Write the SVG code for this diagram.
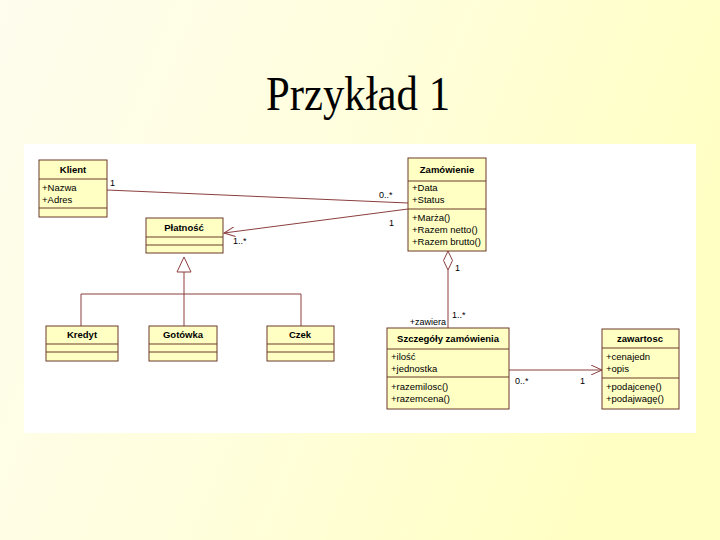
<svg xmlns="http://www.w3.org/2000/svg" width="720" height="540" viewBox="0 0 720 540">
<defs>
<linearGradient id="bg" x1="0" y1="0" x2="1" y2="0.3">
<stop offset="0" stop-color="#FEFDEE"/>
<stop offset="0.5" stop-color="#FFFEDD"/>
<stop offset="1" stop-color="#FFFFC4"/>
</linearGradient>
<marker id="open" viewBox="0 0 12 10" refX="11" refY="5" markerWidth="12" markerHeight="10" markerUnits="userSpaceOnUse" orient="auto">
<path d="M0,0 L11,5 L0,10" fill="none" stroke="#8B3F3F" stroke-width="1"/>
</marker>
</defs>
<style>
.box{fill:#FFFFC4;stroke:#6B3A2A;stroke-width:1}
.sep{stroke:#6B3A2A;stroke-width:1}
.ln{fill:none;stroke:#8B3F3F;stroke-width:1}
.h{font-family:"Liberation Sans",Arial,sans-serif;font-size:9.5px;font-weight:bold;fill:#000;text-anchor:middle}
.t{font-family:"Liberation Sans",Arial,sans-serif;font-size:9.5px;fill:#000}
.lbl{font-family:"Liberation Sans",Arial,sans-serif;font-size:9px;fill:#000}
</style>
<rect x="0" y="0" width="720" height="540" fill="url(#bg)"/>
<text x="358" y="110" font-family="'Liberation Serif','Times New Roman',serif" font-size="48" text-anchor="middle" fill="#000" textLength="184" lengthAdjust="spacingAndGlyphs">Przykład 1</text>
<rect x="24" y="144" width="672" height="289" fill="#FFFFFF"/>

<g id="connectors">
<line class="ln" x1="107" y1="190" x2="408" y2="203"/>
<line class="ln" x1="408" y1="209" x2="224" y2="233" marker-end="url(#open)"/>
<polyline class="ln" points="184,272 184,294"/>
<polygon points="184,257 177,272 191,272" fill="#FFFFFF" stroke="#8B3F3F" stroke-width="1"/>
<polyline class="ln" points="81,326 81,294 301,294 301,326"/>
<line class="ln" x1="184" y1="294" x2="184" y2="326"/>
<polygon points="448,251 452.5,260.5 448,270 443.5,260.5" fill="#FFFFFF" stroke="#8B3F3F" stroke-width="1"/>
<line class="ln" x1="448" y1="270" x2="448" y2="328"/>
<line class="ln" x1="509" y1="370" x2="602" y2="370" marker-end="url(#open)"/>
<text class="lbl" x="110" y="186">1</text>
<text class="lbl" x="379" y="198">0..*</text>
<text class="lbl" x="389" y="226">1</text>
<text class="lbl" x="233" y="244">1..*</text>
<text class="lbl" x="455" y="271">1</text>
<text class="lbl" x="452" y="318">1..*</text>
<text class="lbl" x="446" y="325" text-anchor="end">+zawiera</text>
<text class="lbl" x="515" y="384">0..*</text>
<text class="lbl" x="580" y="384">1</text>
</g>

<g id="Klient">
<rect class="box" x="39" y="160" width="68" height="57"/>
<line class="sep" x1="39" y1="179" x2="107" y2="179"/>
<line class="sep" x1="39" y1="208" x2="107" y2="208"/>
<text class="h" x="73" y="173">Klient</text>
<text class="t" x="42" y="191">+Nazwa</text>
<text class="t" x="42" y="203">+Adres</text>
</g>

<g id="Zamowienie">
<rect class="box" x="408" y="158" width="78" height="93"/>
<line class="sep" x1="408" y1="181" x2="486" y2="181"/>
<line class="sep" x1="408" y1="209" x2="486" y2="209"/>
<text class="h" x="447" y="173">Zamówienie</text>
<text class="t" x="412" y="191">+Data</text>
<text class="t" x="412" y="203">+Status</text>
<text class="t" x="412" y="221">+Marża()</text>
<text class="t" x="412" y="233">+Razem netto()</text>
<text class="t" x="412" y="245">+Razem brutto()</text>
</g>

<g id="Platnosc">
<rect class="box" x="146" y="218" width="77" height="35"/>
<line class="sep" x1="146" y1="237" x2="223" y2="237"/>
<line class="sep" x1="146" y1="245" x2="223" y2="245"/>
<text class="h" x="184" y="231">Płatność</text>
</g>

<g id="Kredyt">
<rect class="box" x="46" y="326" width="72" height="35"/>
<line class="sep" x1="46" y1="344" x2="118" y2="344"/>
<line class="sep" x1="46" y1="352" x2="118" y2="352"/>
<text class="h" x="82" y="338">Kredyt</text>
</g>

<g id="Gotowka">
<rect class="box" x="149" y="326" width="68" height="35"/>
<line class="sep" x1="149" y1="344" x2="217" y2="344"/>
<line class="sep" x1="149" y1="352" x2="217" y2="352"/>
<text class="h" x="183" y="338">Gotówka</text>
</g>

<g id="Czek">
<rect class="box" x="267" y="326" width="67" height="35"/>
<line class="sep" x1="267" y1="344" x2="334" y2="344"/>
<line class="sep" x1="267" y1="352" x2="334" y2="352"/>
<text class="h" x="300" y="338">Czek</text>
</g>

<g id="SzczegolyZamowienia">
<rect class="box" x="387" y="328" width="122" height="81"/>
<line class="sep" x1="387" y1="349" x2="509" y2="349"/>
<line class="sep" x1="387" y1="377" x2="509" y2="377"/>
<text class="h" x="448" y="342">Szczegóły zamówienia</text>
<text class="t" x="391" y="360">+ilość</text>
<text class="t" x="391" y="372">+jednostka</text>
<text class="t" x="391" y="390">+razemilosc()</text>
<text class="t" x="391" y="402">+razemcena()</text>
</g>

<g id="zawartosc">
<rect class="box" x="602" y="329" width="77" height="80"/>
<line class="sep" x1="602" y1="348" x2="679" y2="348"/>
<line class="sep" x1="602" y1="378" x2="679" y2="378"/>
<text class="h" x="640" y="342">zawartosc</text>
<text class="t" x="606" y="360">+cenajedn</text>
<text class="t" x="606" y="372">+opis</text>
<text class="t" x="606" y="390">+podajcenę()</text>
<text class="t" x="606" y="402">+podajwagę()</text>
</g>
</svg>
